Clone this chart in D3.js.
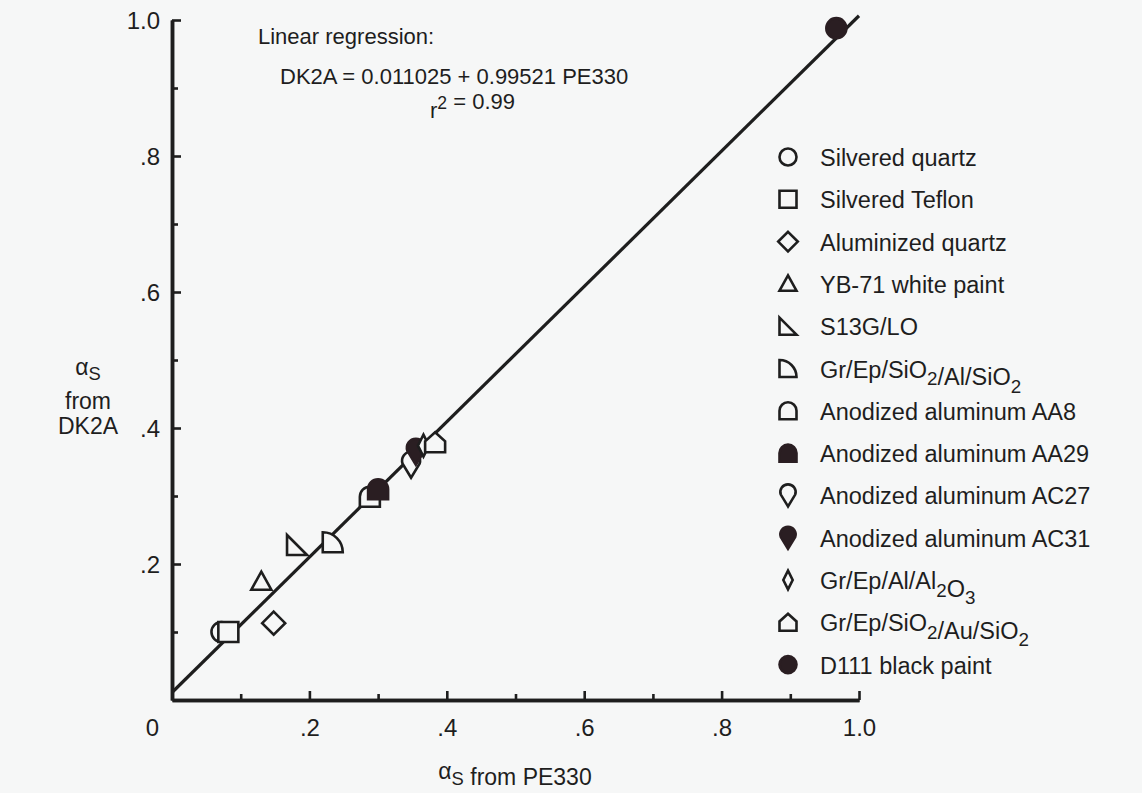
<!DOCTYPE html>
<html>
<head>
<meta charset="utf-8">
<script src="https://cdn.jsdelivr.net/npm/d3@7"></script>
<style>
  body { margin: 0; background: #f6f7f7; }
  svg { display: block; font-family: "Liberation Sans", Arial, Helvetica, sans-serif; }
  text { fill: #1e1e1e; }
</style>
</head>
<body>
<svg id="chart" width="1142" height="793"></svg>
<script>
// materials (legend order), with PE330 vs DK2A solar absorptance
const materials = [
  "Silvered quartz", "Silvered Teflon", "Aluminized quartz", "YB-71 white paint",
  "S13G/LO", "Gr/Ep/SiO_2/Al/SiO_2", "Anodized aluminum AA8", "Anodized aluminum AA29",
  "Anodized aluminum AC27", "Anodized aluminum AC31", "Gr/Ep/Al/Al_2O_3",
  "Gr/Ep/SiO_2/Au/SiO_2", "D111 black paint"
];
const shapes = ["circle", "square", "diamond", "triangle", "rtriangle", "quarter",
  "dome", "dome", "drop", "drop", "thindiamond", "house", "circle"];
const filled = [false, false, false, false, false, false, false, true, false, true, false, false, true];
const pe330 = [0.072, 0.082, 0.148, 0.130, 0.182, 0.234, 0.288, 0.300, 0.348, 0.355, 0.366, 0.383, 0.967];
const dk2a  = [0.100, 0.100, 0.113, 0.174, 0.228, 0.232, 0.299, 0.310, 0.346, 0.365, 0.374, 0.379, 0.988];

// regression DK2A = a + b * PE330
const regA = 0.011025, regB = 0.99521;
const regRange = [0, 1.0];

const xTicks = [0, 0.2, 0.4, 0.6, 0.8, 1.0];
const yTicks = [0.2, 0.4, 0.6, 0.8, 1.0];
const minorTicks = [0.1, 0.3, 0.5, 0.7, 0.9];

const margin = {left: 172, top: 20};
const width = 687, height = 680;
const ink = "#1e1e1e";
const dark = "#2a1e22";
const bg = "#f6f7f7";

const svg = d3.select("#chart");
const x = d3.scaleLinear().domain([0, 1]).range([0, width]);
const y = d3.scaleLinear().domain([0, 1]).range([height, 0]);

const g = svg.append("g").attr("transform", `translate(${margin.left},${margin.top})`);

const fmt = v => v === 0 ? "0" : (v === 1 ? "1.0" : d3.format(".1f")(v).replace(/^0/, ""));

function symbolPath(shape, s) {
  switch (shape) {
    case "circle": return `M${s},0A${s},${s} 0 1,1 ${-s},0A${s},${s} 0 1,1 ${s},0Z`;
    case "square": return `M${-s},${-s}H${s}V${s}H${-s}Z`;
    case "diamond": return `M0,${-s * 1.15}L${s * 1.15},0L0,${s * 1.15}L${-s * 1.15},0Z`;
    case "triangle": return `M0,${-s}L${s},${s * 0.8}L${-s},${s * 0.8}Z`;
    case "rtriangle": return `M${-s},${-s}L${s},${s}L${-s},${s}Z`;
    case "quarter": return `M${-s},${s}V${-s}A${2 * s},${2 * s} 0 0,1 ${s},${s}Z`;
    case "dome": return `M${-s},${s}V0A${s},${s} 0 0,1 ${s},0V${s}Z`;
    case "drop": return `M0,${s * 1.3}L${-s * 0.85},${-s * 0.1}A${s * 0.9},${s * 0.9} 0 1,1 ${s * 0.85},${-s * 0.1}Z`;
    case "thindiamond": return `M0,${-s * 1.1}L${s * 0.55},0L0,${s * 1.1}L${-s * 0.55},0Z`;
    case "house": return `M${-s},${s}V${-s * 0.1}L0,${-s}L${s},${-s * 0.1}V${s}Z`;
  }
}

// writes "A_2B" / "r^2" style labels with sub/superscripts into a text element
function richText(sel, str, size, sub = 0.32) {
  const parts = str.split(/(_\w|\^\w)/).filter(p => p !== "");
  parts.forEach(p => {
    if (p[0] === "_" && p.length === 2) {
      sel.append("tspan").attr("dy", size * sub).attr("font-size", size * 0.8).text(p.slice(1));
      sel.append("tspan").attr("dy", -size * sub).text("");
    } else if (p[0] === "^" && p.length === 2) {
      sel.append("tspan").attr("dy", -size * 0.4).attr("font-size", size * 0.8).text(p.slice(1));
      sel.append("tspan").attr("dy", size * 0.4).text("");
    } else {
      sel.append("tspan").text(p);
    }
  });
}

// axes
const xAxis = g.append("g").attr("transform", `translate(0,${height})`)
  .call(d3.axisBottom(x).tickValues(xTicks).tickFormat(fmt).tickSizeInner(-9).tickSizeOuter(0).tickPadding(19));
const xMinor = g.append("g").attr("transform", `translate(0,${height})`)
  .call(d3.axisBottom(x).tickValues(minorTicks).tickFormat("").tickSizeInner(-6).tickSizeOuter(0));
const yAxis = g.append("g")
  .call(d3.axisLeft(y).tickValues(yTicks).tickFormat(fmt).tickSizeInner(-9).tickSizeOuter(0).tickPadding(12));
const yMinor = g.append("g")
  .call(d3.axisLeft(y).tickValues(minorTicks).tickFormat("").tickSizeInner(-6).tickSizeOuter(0));

[xAxis, xMinor, yAxis, yMinor].forEach(a => {
  a.selectAll(".domain").attr("stroke", ink).attr("stroke-width", 3.5);
  a.selectAll(".tick line").attr("stroke", ink).attr("stroke-width", 2.6);
  a.selectAll("text").attr("font-size", 24).attr("fill", ink).attr("font-family", null);
});
xAxis.selectAll(".tick").filter(d => d === 0).select("text").attr("x", -20);
yAxis.selectAll(".tick text").attr("dy", "0.35em");

// regression line
g.append("line")
  .attr("x1", x(regRange[0])).attr("y1", y(regA + regB * regRange[0]))
  .attr("x2", x(regRange[1])).attr("y2", y(regA + regB * regRange[1]))
  .attr("stroke", ink).attr("stroke-width", 3.2);

// data points
g.selectAll(".pt").data(materials).enter().append("path")
  .attr("class", "pt")
  .attr("transform", (d, i) => `translate(${x(pe330[i])},${y(dk2a[i])})`)
  .attr("d", (d, i) => symbolPath(shapes[i], 10))
  .attr("fill", (d, i) => filled[i] ? dark : bg)
  .attr("stroke", (d, i) => filled[i] ? dark : ink)
  .attr("stroke-width", 2.6);

// regression annotation
const ann = svg.append("g").attr("font-size", 22);
ann.append("text").attr("x", 258).attr("y", 44).text("Linear regression:");
ann.append("text").attr("x", 280).attr("y", 84).text("DK2A = 0.011025 + 0.99521 PE330");
richText(ann.append("text").attr("x", 430).attr("y", 118), "r^2 = 0.99", 22);

// legend
const legend = svg.append("g").attr("transform", "translate(788,157)");
const rowH = 42.3;
const rows = legend.selectAll(".row").data(materials).enter().append("g")
  .attr("class", "row")
  .attr("transform", (d, i) => `translate(0,${i * rowH})`);
rows.append("path")
  .attr("d", (d, i) => symbolPath(shapes[i], 8.5))
  .attr("fill", (d, i) => filled[i] ? dark : bg)
  .attr("stroke", (d, i) => filled[i] ? dark : ink)
  .attr("stroke-width", 2.6);
rows.append("text")
  .attr("x", 32).attr("y", 9).attr("font-size", 23.5)
  .each(function (d) { richText(d3.select(this), d, 23.5); });

// axis titles
const yt = svg.append("g").attr("font-size", 23).attr("text-anchor", "middle");
richText(yt.append("text").attr("x", 88).attr("y", 375), "\u03b1_S", 23, 0.22);
yt.append("text").attr("x", 88).attr("y", 409).text("from");
yt.append("text").attr("x", 88).attr("y", 434).text("DK2A");
richText(svg.append("text").attr("x", 515).attr("y", 779).attr("font-size", 23)
  .attr("text-anchor", "middle"), "\u03b1_S from PE330", 23, 0.25);
</script>
</body>
</html>
